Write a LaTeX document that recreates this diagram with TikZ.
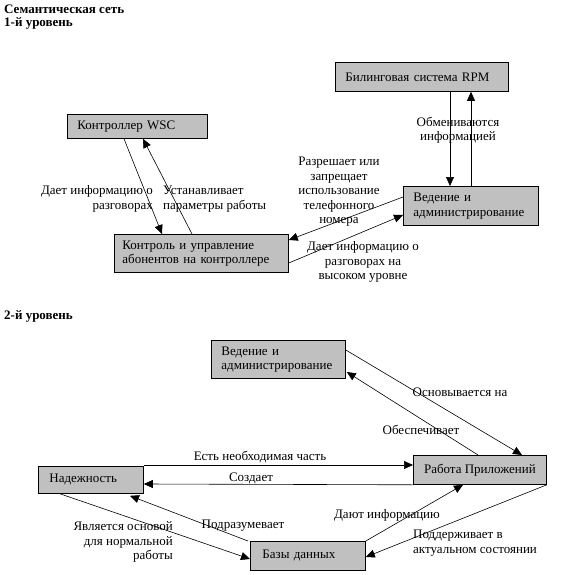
\documentclass[tikz,border=0pt]{standalone}
\usepackage{fontspec}
\setmainfont{Liberation Serif}
\usetikzlibrary{arrows.meta,calc}
\definecolor{boxgray}{HTML}{C0C0C0}
\begin{document}
\begin{tikzpicture}[x=1pt,y=-1pt,
  font=\fontsize{13}{14.5}\selectfont,
  box/.style={draw=black, line width=0.8pt, fill=boxgray, align=left,
    inner ysep=0pt, anchor=north west},
  arr/.style={-{Triangle[length=9pt,width=8pt]}, line width=0.6pt},
  lbl/.style={inner sep=0pt},
  ttl/.style={inner sep=0pt, anchor=west, font=\fontsize{13}{14.5}\selectfont\bfseries}]
\useasboundingbox (0,0) rectangle (560,575);

% titles
\node[ttl] (t1) at (4,9) {Семантическая сеть};
\node[ttl] (t2) at (4,23) {1-й уровень};
\node[ttl] (t3) at (4,316) {2-й уровень};

% level 1 boxes
\node[box, text width=153pt, inner xsep=10pt, minimum height=29pt] (rpm) at (335,62) {Билинговая система RPM};
\node[box, text width=115pt, inner xsep=10pt, minimum height=39pt] (ved1) at (403,186) {Ведение и\\администрирование};
\node[box, text width=120pt, inner xsep=10pt, minimum height=24pt] (wsc) at (67,114) {Контроллер WSC};
\node[box, text width=158pt, inner xsep=8pt, minimum height=38pt] (ctrl) at (114,234) {Контроль и управление\\абонентов на контроллере};

% level 1 connectors
\draw[arr] ($(rpm.south west)+(115,0)$) -- ($(ved1.north west)+(47,0)$);
\draw[arr] ($(ved1.north west)+(68,0)$) -- ($(rpm.south west)+(136,0)$);
\draw[arr] ($(wsc.south west)+(57,0)$) -- ($(ctrl.north west)+(48,0)$);
\draw[arr] ($(ctrl.north west)+(78,0)$) -- ($(wsc.south west)+(76,0)$);
\draw[arr] ($(ved1.north west)+(0,11)$) -- ($(ctrl.north east)+(0,6)$);
\draw[arr] ($(ctrl.north east)+(0,29)$) -- ($(ved1.north west)+(0,29)$);

% level 1 labels
\node[lbl, align=center] (l1) at (458,130) {Обмениваются\\информацией};
\node[lbl, align=center] (l2) at (339,192) {Разрешает или\\запрещает\\использование\\телефонного\\номера};
\node[lbl, align=center] (l3) at (363,262) {Дает информацию о\\разговорах на\\высоком уровне};
\node[lbl, align=right, anchor=east] (l4) at (153,199) {Дает информацию о\\разговорах};
\node[lbl, align=left, anchor=west] (l5) at (163,199) {Устанавливает\\параметры работы};

% level 2 boxes
\node[box, text width=114pt, inner xsep=10pt, minimum height=38pt] (ved2) at (211,340) {Ведение и\\администрирование};
\node[box, align=center, minimum width=133pt, minimum height=29pt] (rab) at (413,455) {Работа Приложений};
\node[box, text width=83pt, inner xsep=11pt, minimum height=27pt] (nad) at (38,466) {Надежность};
\node[box, text width=91pt, inner xsep=12pt, minimum height=29pt] (baz) at (250,541) {Базы данных};

% level 2 connectors
\draw[arr] ($(ved2.north east)+(0,10)$) -- ($(rab.north west)+(109,0)$);
\draw[arr] ($(rab.north west)+(65,0)$) -- ($(ved2.north east)+(1,32)$);
\draw[arr] ($(nad.north east)+(0,-1)$) -- ($(rab.north west)+(0,10)$);
\draw[arr] (rab.south west) -- ($(nad.north east)+(0,18)$);
\draw[arr] ($(nad.south west)+(22,0)$) -- ($(baz.north west)+(0,18)$);
\draw[arr] ($(baz.north west)+(-2,0)$) -- ($(nad.south west)+(92,2)$);
\draw[arr] (baz.north east) -- ($(rab.south west)+(50,0)$);
\draw[arr] (rab.south east) -- ($(baz.north east)+(0,16)$);

% level 2 labels
\node[lbl] (m1) at (460,392) {Основывается на};
\node[lbl] (m2) at (421,430) {Обеспечивает};
\node[lbl] (m3) at (260,457) {Есть необходимая часть};
\node[lbl] (m4) at (251,478) {Создает};
\node[lbl, align=right, anchor=east] (m5) at (173,542) {Является основой\\для нормальной\\работы};
\node[lbl] (m6) at (243,526) {Подразумевает};
\node[lbl] (m7) at (387,515) {Дают информацию};
\node[lbl, align=left, anchor=west] (m8) at (413,543) {Поддерживает в\\актуальном состоянии};
\end{tikzpicture}
\end{document}
